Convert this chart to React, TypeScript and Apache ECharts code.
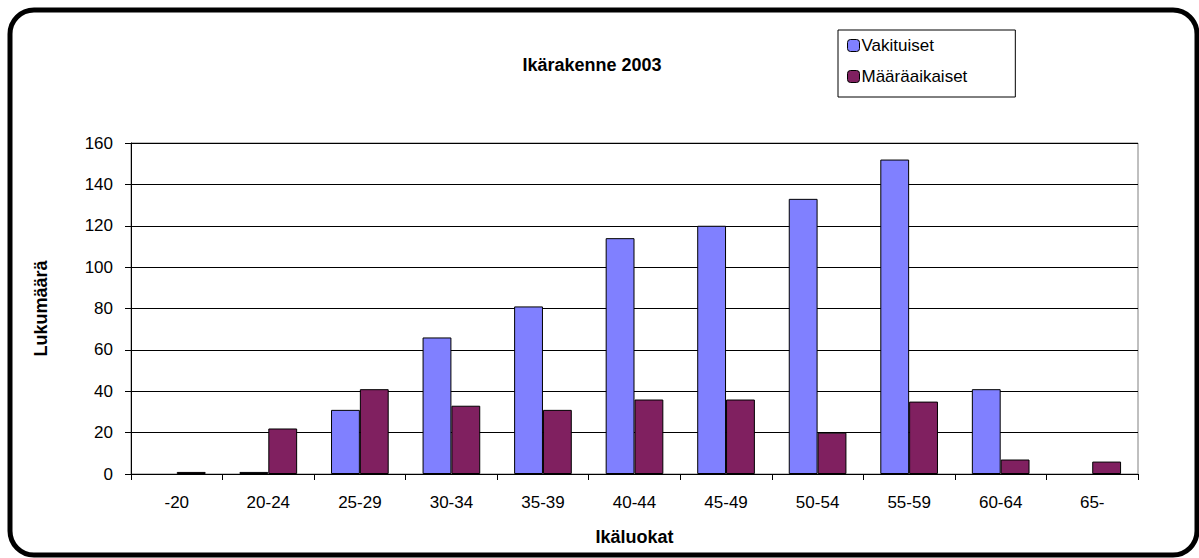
import React, { useEffect, useRef } from "react";
import * as echarts from "echarts";

const categories = ["-20", "20-24", "25-29", "30-34", "35-39", "40-44", "45-49", "50-54", "55-59", "60-64", "65-"];
const vakituiset = [0, 1, 31, 66, 81, 114, 120, 133, 152, 41, 0];
const maaraaikaiset = [1, 22, 41, 33, 31, 36, 36, 20, 35, 7, 6];
const yTicks = { min: 0, max: 160, interval: 20 };

const hideZero = (arr: number[]) => arr.map((v) => (v === 0 ? null : v));

export default function App() {
  const ref = useRef<HTMLDivElement>(null);
  useEffect(() => {
    if (!ref.current) return;
    const chart = echarts.init(ref.current, null, { renderer: "svg" });
    const font = "'Liberation Sans', Arial, sans-serif";
    chart.setOption({
      animation: false,
      backgroundColor: "#ffffff",
      textStyle: { fontFamily: font, color: "#000" },
      title: {
        text: "Ikärakenne 2003",
        left: 587,
        top: 51,
        textAlign: "center",
        textStyle: { fontFamily: font, fontSize: 18, fontWeight: "bold", color: "#000" },
      },
      legend: {
        orient: "vertical",
        left: 838,
        top: 30,
        padding: [7, 48, 12, 9],
        itemGap: 14,
        itemWidth: 12,
        itemHeight: 12,
        borderColor: "#000",
        borderWidth: 1,
        backgroundColor: "#fff",
        textStyle: { fontFamily: font, fontSize: 17, color: "#000", padding: [0, 0, 0, -3] },
        data: [
          { name: "Vakituiset", itemStyle: { borderColor: "#000", borderWidth: 1 } },
          { name: "Määräaikaiset", itemStyle: { borderColor: "#000", borderWidth: 1 } },
        ],
      },
      grid: { left: 131, right: 61, top: 143, bottom: 84, show: true, borderColor: "#808080", borderWidth: 1 },
      xAxis: {
        type: "category",
        data: categories,
        name: "Ikäluokat",
        nameLocation: "middle",
        nameGap: 54,
        nameTextStyle: { fontFamily: font, fontSize: 18, fontWeight: "bold", color: "#000" },
        axisLine: { show: true, lineStyle: { color: "#000", width: 1 } },
        axisTick: { show: true, alignWithLabel: false, length: 6, lineStyle: { color: "#000" } },
        axisLabel: { fontFamily: font, fontSize: 17, color: "#000", margin: 20 },
      },
      yAxis: {
        type: "value",
        min: yTicks.min,
        max: yTicks.max,
        interval: yTicks.interval,
        name: "Lukumäärä",
        nameLocation: "middle",
        nameGap: 81,
        nameRotate: 90,
        nameTextStyle: { fontFamily: font, fontSize: 18, fontWeight: "bold", color: "#000" },
        axisLine: { show: true, lineStyle: { color: "#000", width: 1 } },
        axisTick: { show: true, inside: false, length: 6, lineStyle: { color: "#000" } },
        axisLabel: { fontFamily: font, fontSize: 17, color: "#000", margin: 18 },
        splitLine: { show: true, lineStyle: { color: "#000", width: 1 } },
      },
      series: [
        {
          name: "Vakituiset",
          type: "bar",
          data: hideZero(vakituiset),
          barGap: "0%",
          barCategoryGap: "37%",
          itemStyle: { color: "#8080FF", borderColor: "#000", borderWidth: 1 },
        },
        {
          name: "Määräaikaiset",
          type: "bar",
          data: hideZero(maaraaikaiset),
          barGap: "0%",
          barCategoryGap: "37%",
          itemStyle: { color: "#802060", borderColor: "#000", borderWidth: 1 },
        },
      ],
      graphic: [
        {
          type: "rect",
          silent: true,
          z: 100,
          shape: { x: 10, y: 10, width: 1187, height: 545, r: 24 },
          style: { fill: "none", stroke: "#000", lineWidth: 5 },
        },
      ],
    });
    return () => chart.dispose();
  }, []);
  return <div ref={ref} style={{ position: "absolute", left: 0, top: 0, width: 1199, height: 558 }} />;
}
